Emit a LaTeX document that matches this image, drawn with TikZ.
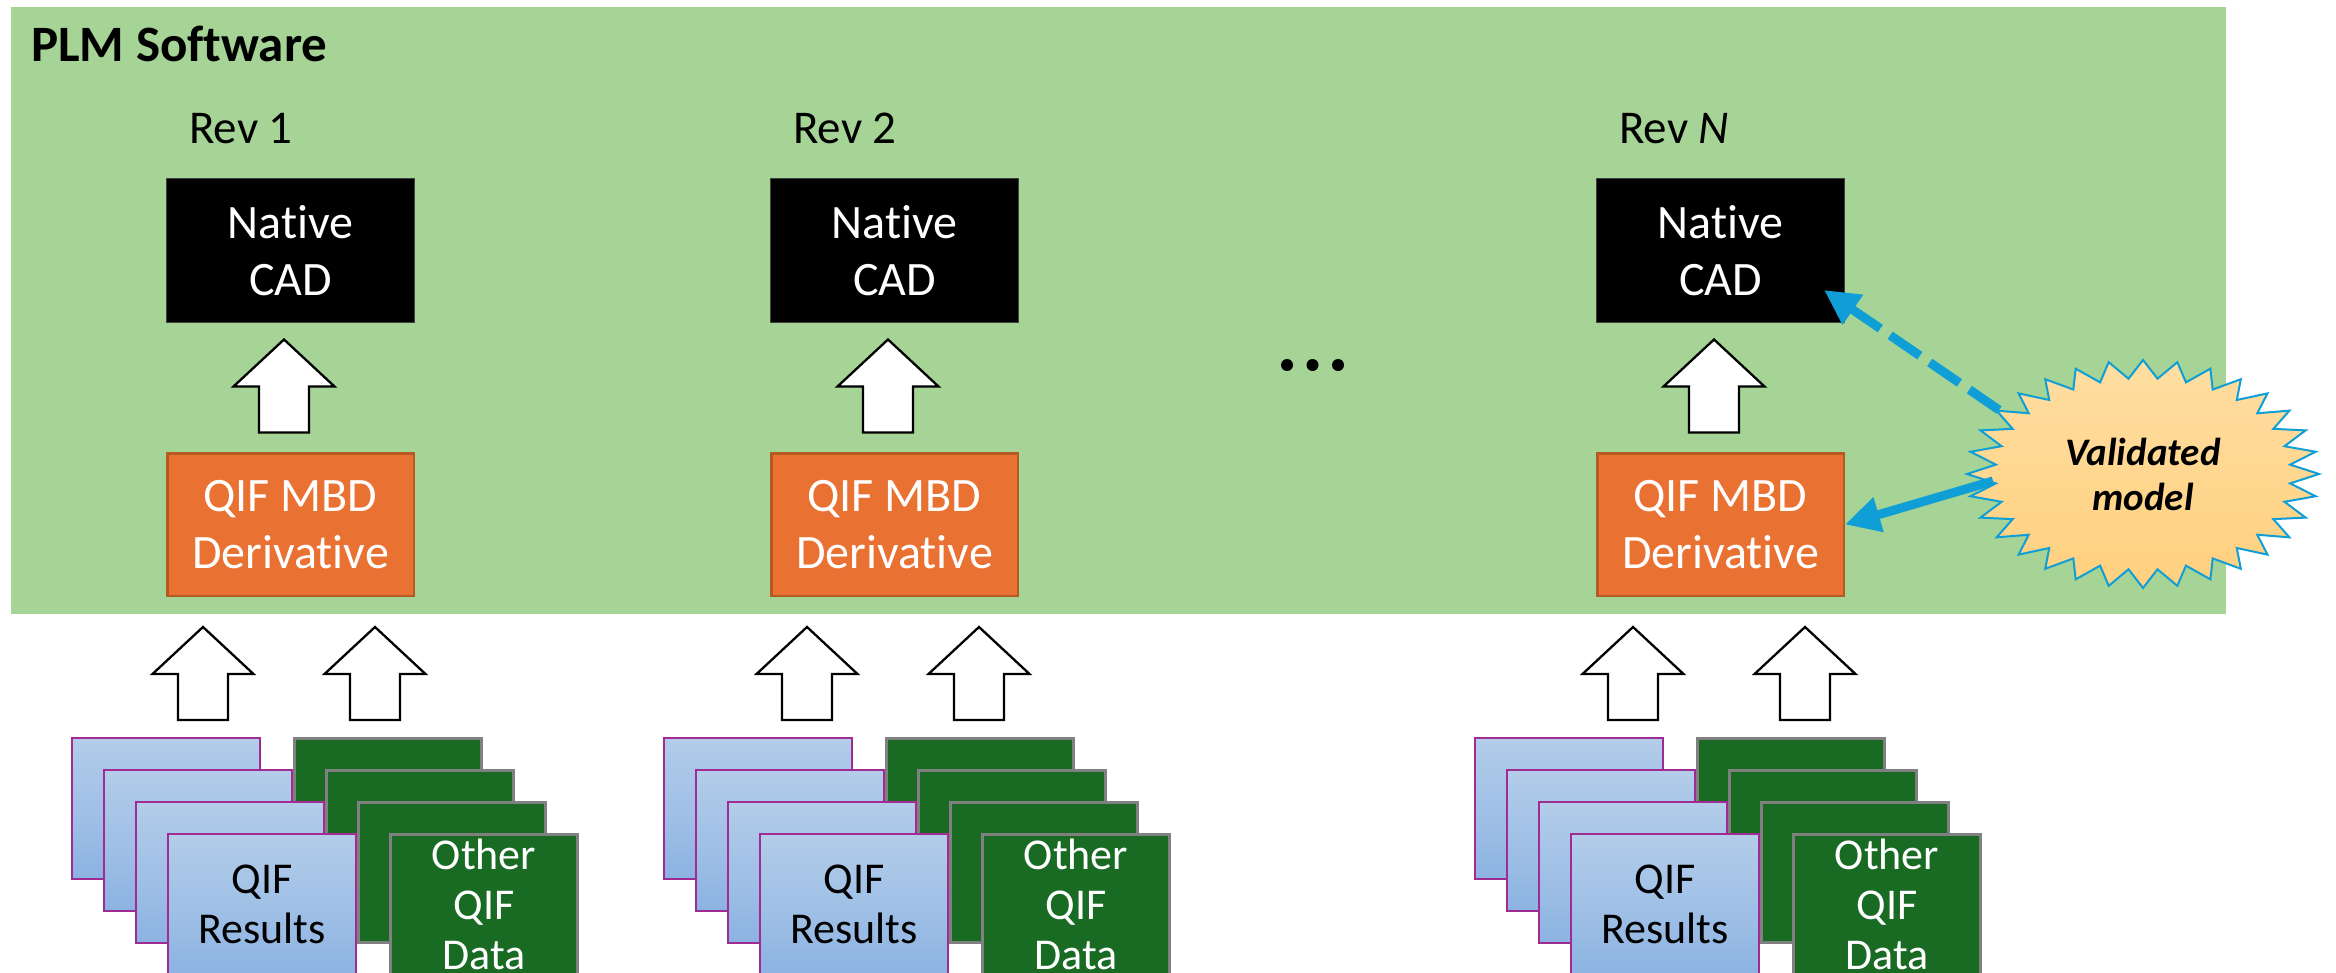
\documentclass[tikz,border=0pt]{standalone}
\usepackage{fontspec}
\setmainfont{Carlito}[Ligatures=NoCommon]
\usetikzlibrary{arrows.meta,calc}

\definecolor{plmgreen}{HTML}{A6D396}
\definecolor{qorange}{HTML}{E97132}
\definecolor{qorangeedge}{HTML}{B65A24}
\definecolor{qblue}{HTML}{0F9ED5}
\definecolor{qpurple}{HTML}{A02B93}
\definecolor{qdkgreen}{HTML}{196B24}
\definecolor{cardtop}{HTML}{B3CDEA}
\definecolor{cardbot}{HTML}{8DB3E2}
\definecolor{startop}{HTML}{FFDEA2}
\definecolor{starbot}{HTML}{FFD07E}

\tikzset{
  cadbox/.style={draw=black!75, line width=1pt, fill=black, text=white,
    minimum width=248pt, minimum height=144pt, inner sep=0pt, align=center,
    font=\fontsize{48}{57}\selectfont},
  derbox/.style={draw=qorangeedge, line width=2.5pt, fill=qorange, text=white,
    minimum width=246.5pt, minimum height=142.5pt, inner sep=0pt, align=center,
    font=\fontsize{48}{57}\selectfont},
  revlabel/.style={anchor=base west, inner sep=0pt, font=\fontsize{47}{56}\selectfont},
  resultcard/.style={draw=qpurple, line width=2pt, top color=cardtop, bottom color=cardbot,
    text=black, minimum width=188pt, minimum height=141pt, inner sep=0pt, align=center,
    font=\fontsize{44}{50}\selectfont},
  datacard/.style={draw=gray, line width=3pt, fill=qdkgreen, text=white,
    minimum width=187pt, minimum height=140pt, inner sep=0pt, align=center,
    font=\fontsize{44}{50}\selectfont},
  blockarrow/.style={draw=black, line width=2.3pt, fill=white, line join=miter},
  dotmark/.style={circle, fill=black, inner sep=0pt, minimum size=12pt},
  starburst/.style={draw=qblue, line width=2pt, top color=startop, bottom color=starbot, line join=miter},
  link/.style={draw=qblue, line width=9pt, -{Triangle[length=35pt,width=34pt]}},
  pics/blockup/.style={code={
    \path[blockarrow] (0,0) -- (50.5,47) -- (25,47) -- (25,93) -- (-25,93)
      -- (-25,47) -- (-50.5,47) -- cycle;}},
}

\begin{document}
\begin{tikzpicture}[x=1pt, y=-1pt]
  \useasboundingbox (0,0) rectangle (2336,973);
  \clip (0,0) rectangle (2336,973);

  % PLM area
  \path[fill=plmgreen] (11,7) rectangle (2226,614);
  \node[anchor=base west, inner sep=0pt, font=\fontsize{51}{60}\selectfont\bfseries]
    (plm) at (31,62) {PLM Software};

  % one column per revision: box offset / card offset / label
  \foreach \c/\dx/\cx/\lab in {1/0/0/{Rev 1}, 2/604/592/{Rev 2}, 3/1430/1403/{Rev \textit{N}}} {
    \node[revlabel] (rev\c) at (189+\dx,144) {\lab};
    \node[cadbox] (cad\c) at (290.5+\dx,250.5) {Native\\CAD};
    \node[derbox] (der\c) at (290.5+\dx,524.5) {QIF MBD\\Derivative};
    \pic at ($(cad\c.south)+(-6.5,16.5)$) {blockup};
    \pic at ($(der\c.south)+(-87.5,30)$) {blockup};
    \pic at ($(der\c.south)+(84.5,30)$) {blockup};
    % stacked data sheets, back to front
    \foreach \k in {0,1,2} {
      \node[datacard] (oth\c-\k) at (388+32*\k+\cx,808.5+32*\k) {};
    }
    \node[datacard] (oth\c-3) at (484+\cx,904.5) {Other\\QIF\\Data};
    \foreach \k in {0,1,2} {
      \node[resultcard] (res\c-\k) at (166+32*\k+\cx,808.5+32*\k) {};
    }
    \node[resultcard] (res\c-3) at (262+\cx,904.5) {QIF\\Results};
  }

  % ellipsis between revisions
  \node[dotmark] (dot1) at (1287,365) {};
  \node[dotmark] (dot2) at (1312.5,365) {};
  \node[dotmark] (dot3) at (1338,365) {};

  % validated model burst
  \coordinate (vmc) at (2143,474);
  \path[starburst] ($(vmc)+(0:176 and 114)$)
    \foreach \i in {1,...,63} {
      -- ($(vmc)+({\i*5.625}:{176*(1-0.16*mod(\i,2))} and {114*(1-0.16*mod(\i,2))})$)
    } -- cycle;
  \node[font=\fontsize{39}{45}\selectfont\bfseries\itshape, align=center, inner sep=0pt]
    (vm) at (vmc) {Validated\\model};

  % links from the validated model
  \coordinate (vmlow) at ($(vmc)+(-150,7)$);
  \coordinate (vmup) at ($(vmc)+(-144,-64)$);
  \coordinate (cadhit) at ($(cad3.south east)+(-21,-33)$);
  \draw[link] (vmlow) -- (der3.east);
  \draw[link, dash pattern=on 36pt off 12pt] (vmup) -- (cadhit);
\end{tikzpicture}
\end{document}
